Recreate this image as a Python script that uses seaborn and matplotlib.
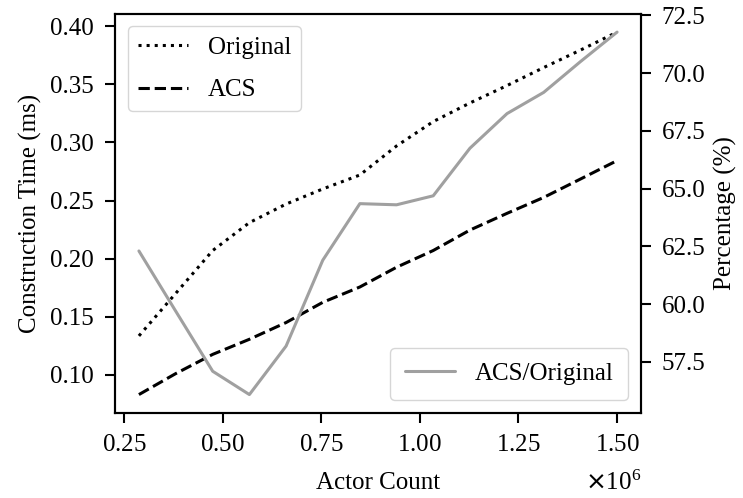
import matplotlib
matplotlib.use("Agg")
import matplotlib.pyplot as plt
import seaborn as sns
import pandas as pd

actor_count = [288000, 381000, 475000, 568000, 661000, 754000, 848000,
               941000, 1034000, 1127000, 1221000, 1314000, 1407000, 1500000]
original_ms = [0.1335, 0.170, 0.207, 0.231, 0.247, 0.260, 0.272,
               0.297, 0.318, 0.334, 0.349, 0.3645, 0.3795, 0.395]
acs_ms = [0.083, 0.101, 0.1176, 0.1306, 0.145, 0.1624, 0.1756,
          0.1926, 0.207, 0.2246, 0.239, 0.2527, 0.2685, 0.2844]
ratio_pct = [62.30, 59.7, 57.09, 56.08, 58.18, 61.9, 64.35,
             64.30, 64.69, 66.75, 68.25, 69.17, 70.5, 71.78]

df = pd.DataFrame({"x": actor_count, "orig": original_ms,
                   "acs": acs_ms, "ratio": ratio_pct})

sns.set_style("ticks")
plt.rcParams["font.family"] = ["Liberation Serif", "DejaVu Sans"]
plt.rcParams["font.size"] = 18
plt.rcParams["text.color"] = "black"
plt.rcParams["axes.labelcolor"] = "black"
plt.rcParams["axes.edgecolor"] = "black"
plt.rcParams["axes.linewidth"] = 1.5
for a in ("xtick", "ytick"):
    plt.rcParams[f"{a}.major.size"] = 7
    plt.rcParams[f"{a}.major.width"] = 1.5
    plt.rcParams[f"{a}.major.pad"] = 8
    plt.rcParams[f"{a}.direction"] = "out"
    plt.rcParams[f"{a}.labelsize"] = 18
    plt.rcParams[f"{a}.color"] = "black"
    plt.rcParams[f"{a}.labelcolor"] = "black"

fig, ax = plt.subplots(figsize=(7.43, 4.98), dpi=100)
fig.subplots_adjust(left=0.1548, right=0.8627, top=0.9719, bottom=0.1713)

sns.lineplot(data=df, x="x", y="orig", ax=ax, color="black", linestyle=":",
             linewidth=2.2, label="Original")
sns.lineplot(data=df, x="x", y="acs", ax=ax, color="black", linestyle="--",
             linewidth=2.2, label="ACS")
ax.set_xlabel("Actor Count", fontsize=18, labelpad=12)
ax.set_ylabel("Construction Time (ms)", fontsize=18, labelpad=6)
ax.set_xticks([250000, 500000, 750000, 1000000, 1250000, 1500000])
ax.ticklabel_format(axis="x", style="sci", scilimits=(0, 0), useMathText=True)
ax.xaxis.get_offset_text().set_fontsize(18)
ax.xaxis.OFFSETTEXTPAD = 11
yt = [0.10, 0.15, 0.20, 0.25, 0.30, 0.35, 0.40]
ax.set_yticks(yt)
ax.set_yticklabels([f"{v:.2f}" for v in yt])

ax2 = ax.twinx()
sns.lineplot(data=df, x="x", y="ratio", ax=ax2, color="#a0a0a0",
             linestyle="-", linewidth=2.2, label="ACS/Original")
ax2.set_ylabel("Percentage (%)", fontsize=18, labelpad=6)
rt = [57.5, 60.0, 62.5, 65.0, 67.5, 70.0, 72.5]
ax2.set_yticks(rt)
ax2.set_yticklabels([f"{v:.1f}" for v in rt])
for sp in list(ax2.spines.values()) + list(ax.spines.values()):
    sp.set_linewidth(1.5)
    sp.set_color("black")

ax.legend(loc="upper left", fontsize=18, borderpad=0.4, labelspacing=0.8)
ax2.legend(loc="lower right", fontsize=18, borderpad=0.6)

fig.savefig("out.png", dpi=100)
